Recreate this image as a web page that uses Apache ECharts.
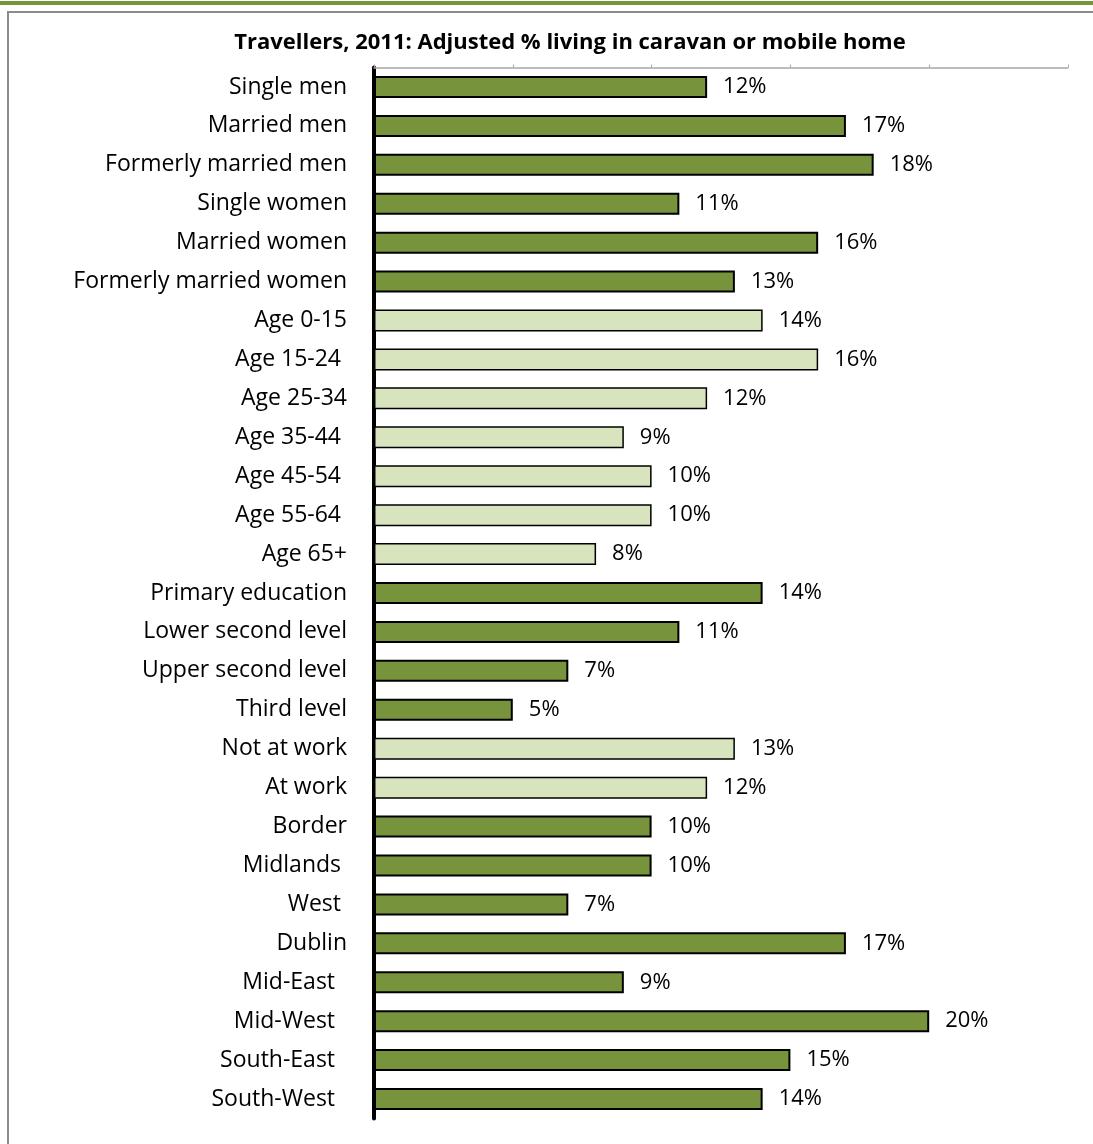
<!DOCTYPE html>
<html>
<head>
<meta charset="utf-8">
<title>Travellers, 2011: Adjusted % living in caravan or mobile home</title>
<script src="https://cdn.jsdelivr.net/npm/echarts@6/dist/echarts.min.js"></script>
<style>
  html, body { margin: 0; padding: 0; background: #fff; }
  #wrap { position: relative; width: 1093px; height: 1144px; overflow: hidden; }
  #chart { position: absolute; left: 0; top: 0; width: 1093px; height: 1144px; }
  .band { position: absolute; left: 0; top: 1px; width: 1093px; height: 4px; background: #77933C; }
  .frame { position: absolute; left: 7px; top: 11px; right: -4px; bottom: -4px;
           border-top: 2px solid #8C8C8C; border-left: 2px solid #8C8C8C; pointer-events: none; }
</style>
</head>
<body>
<div id="wrap">
  <div class="band"></div>
  <div class="frame"></div>
  <div id="chart"></div>
</div>
<script>
// Category labels (trailing spaces keep the original label alignment)
const categories = [
  'Single men', 'Married men', 'Formerly married men',
  'Single women', 'Married women', 'Formerly married women',
  'Age 0-15', 'Age 15-24 ', 'Age 25-34', 'Age 35-44 ', 'Age 45-54 ', 'Age 55-64 ', 'Age 65+',
  'Primary education', 'Lower second level', 'Upper second level', 'Third level',
  'Not at work', 'At work',
  'Border', 'Midlands ', 'West ', 'Dublin', 'Mid-East  ', 'Mid-West  ', 'South-East  ', 'South-West  '
];

// Adjusted % living in caravan or mobile home
const values = [
  12, 17, 18,
  11, 16, 13,
  14, 16, 12, 9, 10, 10, 8,
  14, 11, 7, 5,
  13, 12,
  10, 10, 7, 17, 9, 20, 15, 14
];

// Variable group each row belongs to
const groups = [
  'marital', 'marital', 'marital',
  'marital', 'marital', 'marital',
  'age', 'age', 'age', 'age', 'age', 'age', 'age',
  'education', 'education', 'education', 'education',
  'work', 'work',
  'region', 'region', 'region', 'region', 'region', 'region', 'region', 'region'
];

const xTicks = [0, 5, 10, 15, 20, 25];

const groupFill = {
  marital: '#77933C',
  age: '#D7E4BD',
  education: '#77933C',
  work: '#D7E4BD',
  region: '#77933C'
};

const FONT = '"Open Sans", Lato, sans-serif';

const chart = echarts.init(document.getElementById('chart'), null, { renderer: 'canvas' });

chart.setOption({
  animation: false,
  backgroundColor: 'transparent',
  title: {
    text: 'Travellers, 2011: Adjusted % living in caravan or mobile home',
    left: 565,
    top: 27,
    textAlign: 'center',
    textStyle: { fontFamily: FONT, fontWeight: 'bold', fontSize: 22, color: '#000' }
  },
  grid: { left: 374, right: 25, top: 67.5, bottom: 25.5, containLabel: false },
  xAxis: {
    type: 'value',
    position: 'top',
    min: xTicks[0],
    max: xTicks[xTicks.length - 1],
    interval: 5,
    axisLine: { show: true, lineStyle: { color: '#A6A6A6', width: 1.5 } },
    axisTick: { show: true, inside: false, length: 3, lineStyle: { color: '#A6A6A6', width: 1 } },
    axisLabel: { show: false },
    splitLine: { show: false }
  },
  yAxis: {
    type: 'category',
    data: categories,
    inverse: true,
    axisLine: { show: true, lineStyle: { color: '#000', width: 4 } },
    axisTick: { show: false },
    axisLabel: {
      margin: 27,
      padding: [3, 0, 0, 0],
      fontFamily: FONT,
      fontSize: 23,
      color: '#000'
    }
  },
  series: [{
    type: 'bar',
    barWidth: 22,
    data: values.map((v, i) => ({
      value: v,
      itemStyle: {
        color: groupFill[groups[i]],
        borderColor: '#000',
        borderWidth: groupFill[groups[i]] === '#77933C' ? 2 : 1.5
      }
    })),
    label: {
      show: true,
      position: 'right',
      distance: 16,
      padding: [3, 0, 0, 0],
      fontFamily: FONT,
      fontSize: 22,
      color: '#000',
      formatter: p => p.value + '%'
    }
  }]
});
</script>
</body>
</html>
